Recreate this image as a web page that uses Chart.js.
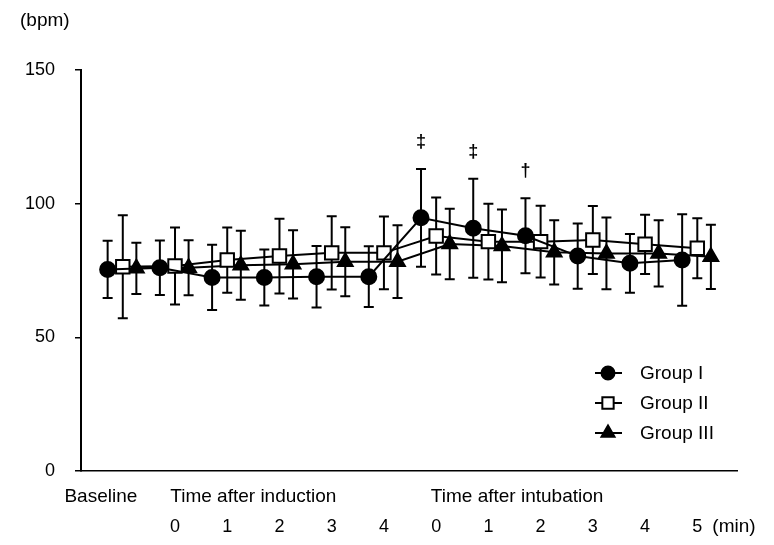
<!DOCTYPE html>
<html>
<head>
<title>Heart rate</title>
<style>
body { margin:0; background:#fff; }
canvas { display:block; }
</style>
</head>
<body>
<script src="https://cdn.jsdelivr.net/npm/chart.js"></script>
<canvas id="myChart" width="774" height="545"></canvas>
<script>
// time points: baseline, after induction 0-4 min, after intubation 0-5 min
var timeIndex = [0, 1, 2, 3, 4, 5, 6, 7, 8, 9, 10, 11];
var xTickPos = [1, 2, 3, 4, 5, 6, 7, 8, 9, 10, 11];
var xTickLabels = ['0', '1', '2', '3', '4', '0', '1', '2', '3', '4', '5'];
var sectionLabels = ['Baseline', 'Time after induction', 'Time after intubation'];
var sectionPos = [-0.42, 2.5, 7.55];
var yTicks = [0, 50, 100, 150];

// heart rate (bpm), mean and SD
var group1 = [75.4, 76.0, 72.4, 72.4, 72.7, 72.7, 94.7, 90.8, 88.0, 80.4, 77.7, 78.9];
var group1SD = [10.7, 10.2, 12.2, 10.5, 11.5, 11.4, 18.3, 18.5, 14.0, 12.2, 11.0, 17.1];
var group2 = [76.4, 76.7, 78.9, 80.4, 81.6, 81.6, 87.9, 85.8, 85.8, 86.4, 84.8, 83.3];
var group2SD = [19.3, 14.4, 12.2, 14.0, 13.7, 13.6, 14.4, 14.2, 13.4, 12.7, 11.1, 11.2];
var group3 = [75.8, 76.0, 77.0, 77.3, 78.3, 78.3, 84.9, 84.2, 81.8, 81.4, 81.4, 80.1];
var group3SD = [9.6, 10.3, 12.9, 12.8, 12.9, 13.6, 13.2, 13.6, 12.0, 13.4, 12.4, 12.0];
// significance marks above Group I
var sigMarks = ['', '', '', '', '', '', '\u2021', '\u2021', '\u2020', '', '', ''];

var FONT = 'Liberation Sans, Arial, sans-serif';

function pts(vals, sd, shift) {
    return vals.map(function (v, i) {
        return { x: timeIndex[i] + shift, y: v, sd: sd[i] };
    });
}

var groups = [
    { label: 'Group I', data: pts(group1, group1SD, -0.29), style: 'circle', r: 7.5, fill: '#000', lr: 6.5 },
    { label: 'Group II', data: pts(group2, group2SD, 0), style: 'rect', r: 9.5, fill: '#fff', lr: 8 },
    { label: 'Group III', data: pts(group3, group3SD, 0.26), style: 'triangle', r: 8.5, fill: '#000', lr: 7.5 }
];

// error bars behind the markers
const errorBars = {
    id: 'errorBars',
    beforeDatasetsDraw(chart) {
        const ctx = chart.ctx, xs = chart.scales.x, ys = chart.scales.y;
        ctx.save();
        ctx.strokeStyle = '#000';
        ctx.lineWidth = 2;
        chart.data.datasets.forEach(ds => {
            ds.data.forEach(p => {
                const x = xs.getPixelForValue(p.x);
                const t = ys.getPixelForValue(p.y + p.sd);
                const b = ys.getPixelForValue(p.y - p.sd);
                ctx.beginPath();
                ctx.moveTo(x, t); ctx.lineTo(x, b);
                ctx.moveTo(x - 5, t); ctx.lineTo(x + 5, t);
                ctx.moveTo(x - 5, b); ctx.lineTo(x + 5, b);
                ctx.stroke();
            });
        });
        ctx.restore();
    }
};

// texts: unit, section labels, sig marks, legend
const extras = {
    id: 'extras',
    afterDraw(chart) {
        const ctx = chart.ctx, xs = chart.scales.x, ys = chart.scales.y;
        const area = chart.chartArea;
        ctx.save();
        ctx.fillStyle = '#000';
        ctx.textBaseline = 'middle';

        ctx.font = '19px ' + FONT;
        ctx.textAlign = 'left';
        ctx.fillText('(bpm)', 20, 21);
        ctx.fillText('(min)', xs.getPixelForValue(11) + 15, 527);

        ctx.textAlign = 'center';
        sectionLabels.forEach((s, i) => {
            ctx.fillText(s, xs.getPixelForValue(sectionPos[i]), 497);
        });

        ctx.font = 'bold 18px ' + FONT;
        const d1 = chart.data.datasets[0].data;
        sigMarks.forEach((m, i) => {
            if (!m) return;
            const p = d1[i];
            ctx.fillText(m, xs.getPixelForValue(p.x), ys.getPixelForValue(p.y + p.sd) - 27);
        });

        // legend
        ctx.font = '19px ' + FONT;
        ctx.textAlign = 'left';
        groups.forEach((g, i) => {
            const y = 373 + i * 30;
            const x0 = area.right - 142;
            ctx.strokeStyle = '#000';
            ctx.lineWidth = 2;
            ctx.beginPath();
            ctx.moveTo(x0, y); ctx.lineTo(x0 + 27, y);
            ctx.stroke();
            ctx.fillStyle = g.fill;
            Chart.helpers.drawPoint(ctx, { pointStyle: g.style, radius: g.lr, borderWidth: 2, rotation: 0 }, x0 + 13, y);
            ctx.fillStyle = '#000';
            ctx.fillText(g.label, x0 + 45, y + 1);
        });
        ctx.restore();
    }
};

const ctx = document.getElementById('myChart').getContext('2d');
const myChart = new Chart(ctx, {
    type: 'scatter',
    data: {
        datasets: groups.map(g => ({
            label: g.label,
            data: g.data,
            showLine: true,
            borderColor: '#000',
            borderWidth: 2,
            backgroundColor: g.fill,
            pointStyle: g.style,
            pointRadius: g.r,
            pointHoverRadius: g.r,
            pointBorderColor: '#000',
            pointBorderWidth: 2,
            pointBackgroundColor: g.fill
        }))
    },
    options: {
        responsive: false,
        animation: false,
        devicePixelRatio: 1,
        layout: { padding: { top: 70, right: 37, left: 0, bottom: 0 } },
        plugins: { legend: { display: false }, tooltip: { enabled: false } },
        scales: {
            x: {
                type: 'linear',
                min: -0.8,
                max: 11.76,
                afterBuildTicks: s => { s.ticks = xTickPos.map(v => ({ value: v })); },
                afterFit: s => { s.height = 74; },
                grid: { display: false, drawTicks: false },
                border: { display: true, color: '#000', width: 1.5 },
                ticks: {
                    autoSkip: false,
                    maxRotation: 0,
                    padding: 45,
                    color: '#000',
                    font: { family: FONT, size: 18 },
                    callback: (v, i) => xTickLabels[i]
                }
            },
            y: {
                min: 0,
                max: 150,
                afterBuildTicks: s => { s.ticks = yTicks.map(v => ({ value: v })); },
                afterFit: s => { s.width = 81; },
                grid: { drawOnChartArea: false, drawTicks: true, tickLength: 6, color: '#000', lineWidth: 1.5 },
                border: { display: true, color: '#000', width: 2 },
                ticks: {
                    padding: 20,
                    color: '#000',
                    font: { family: FONT, size: 18 }
                }
            }
        }
    },
    plugins: [errorBars, extras]
});
</script>
</body>
</html>
